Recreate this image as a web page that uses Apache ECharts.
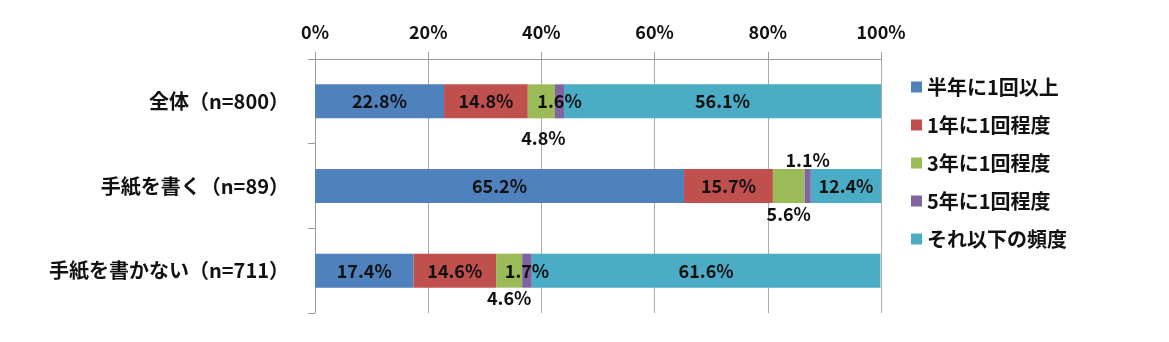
<!DOCTYPE html>
<html><head><meta charset="utf-8">
<script src="https://cdn.jsdelivr.net/npm/echarts@6/dist/echarts.min.js"></script>
<style>html,body{margin:0;padding:0;background:#fff}#c{width:1169px;height:342px}</style>
</head><body><div id="c"></div>
<script>
const categories = ['全体（n=800）', '手紙を書く（n=89）', '手紙を書かない（n=711）'];
const seriesNames = ['半年に1回以上', '1年に1回程度', '3年に1回程度', '5年に1回程度', 'それ以下の頻度'];
const halfYear = [22.8, 65.2, 17.4];
const oneYear = [14.8, 15.7, 14.6];
const threeYear = [4.8, 5.6, 4.6];
const fiveYear = [1.6, 1.1, 1.7];
const less = [56.1, 12.4, 61.6];
const xTicks = [0, 20, 40, 60, 80, 100];

const colors = ['#4F81BD', '#C0504D', '#9BBB59', '#8064A2', '#4BACC6'];
const values = [halfYear, oneYear, threeYear, fiveYear, less];
// label offsets for small segments (series index -> per-category offset)
const labelOffsets = {
  2: [[2, 37], [0, 28], [0, 27]],
  3: [[0, 0], [0, -26], [0, 0]]
};
const FONT = '"Noto Sans CJK JP", "Noto Sans", sans-serif';

const series = values.map((arr, si) => ({
  name: seriesNames[si],
  type: 'bar',
  stack: 'total',
  barWidth: 34,
  itemStyle: { color: colors[si] },
  label: {
    show: true,
    position: 'inside',
    color: '#111',
    fontFamily: FONT,
    fontSize: 18,
    fontWeight: 'bold',
    formatter: p => p.value.toFixed(1) + '%'
  },
  data: arr.map((v, ci) => {
    const o = labelOffsets[si] ? labelOffsets[si][ci] : null;
    return o ? { value: v, label: { offset: o } } : { value: v };
  })
}));

const chart = echarts.init(document.getElementById('c'));
chart.setOption({
  animation: false,
  textStyle: { fontFamily: FONT },
  grid: { left: 315, right: 288, top: 59, bottom: 29, containLabel: false },
  legend: {
    orient: 'vertical',
    left: 906,
    top: 72,
    itemWidth: 11,
    itemHeight: 11,
    itemGap: 18,
    icon: 'rect',
    textStyle: { fontFamily: FONT, fontSize: 20, fontWeight: 'bold', color: '#111' },
    data: seriesNames
  },
  xAxis: {
    type: 'value',
    position: 'top',
    min: 0, max: 100, interval: 20,
    axisLine: { show: true, lineStyle: { color: '#999' } },
    axisTick: { show: true, length: 7, lineStyle: { color: '#999' } },
    splitLine: { show: true, lineStyle: { color: '#aaa' } },
    axisLabel: {
      margin: 18,
      fontFamily: FONT, fontSize: 18, fontWeight: 'bold', color: '#111',
      formatter: v => v + '%'
    },
    data: xTicks
  },
  yAxis: {
    type: 'category',
    inverse: true,
    data: categories,
    axisLine: { show: true, lineStyle: { color: '#999' } },
    axisTick: { show: true, length: 7, lineStyle: { color: '#999' } },
    axisLabel: { margin: 26, fontFamily: FONT, fontSize: 20, fontWeight: 'bold', color: '#111' }
  },
  series
});
</script>
</body></html>
